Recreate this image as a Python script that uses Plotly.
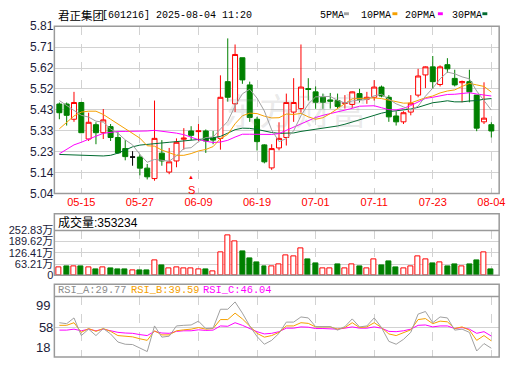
import plotly.graph_objects as go

W, H = 520, 365

# ---------------- data ----------------
dates = ["2025-05-12", "2025-05-13", "2025-05-14", "2025-05-15", "2025-05-16",
         "2025-05-19", "2025-05-20", "2025-05-21", "2025-05-22", "2025-05-23",
         "2025-05-26", "2025-05-27", "2025-05-28", "2025-05-29", "2025-05-30",
         "2025-06-03", "2025-06-04", "2025-06-05", "2025-06-06", "2025-06-09",
         "2025-06-10", "2025-06-11", "2025-06-12", "2025-06-13", "2025-06-16",
         "2025-06-17", "2025-06-18", "2025-06-19", "2025-06-20", "2025-06-23",
         "2025-06-24", "2025-06-25", "2025-06-26", "2025-06-27", "2025-06-30",
         "2025-07-01", "2025-07-02", "2025-07-03", "2025-07-04", "2025-07-07",
         "2025-07-08", "2025-07-09", "2025-07-10", "2025-07-11", "2025-07-14",
         "2025-07-15", "2025-07-16", "2025-07-17", "2025-07-18", "2025-07-21",
         "2025-07-22", "2025-07-23", "2025-07-24", "2025-07-25", "2025-07-28",
         "2025-07-29", "2025-07-30", "2025-07-31", "2025-08-01", "2025-08-04"]

opens = [5.452, 5.452, 5.382, 5.459, 5.291, 5.357, 5.320, 5.348, 5.298, 5.247,
         5.208, 5.208, 5.157, 5.109, 5.226, 5.139, 5.190, 5.290, 5.328, 5.325,
         5.328, 5.298, 5.294, 5.555, 5.453, 5.665, 5.540, 5.382, 5.264, 5.158,
         5.250, 5.298, 5.415, 5.431, 5.523, 5.508, 5.483, 5.471, 5.468, 5.455,
         5.450, 5.500, 5.474, 5.483, 5.530, 5.483, 5.397, 5.370, 5.415, 5.493,
         5.586, 5.623, 5.542, 5.633, 5.570, 5.550, 5.555, 5.493, 5.370, 5.357]
highs = [5.459, 5.459, 5.508, 5.462, 5.412, 5.368, 5.429, 5.360, 5.323, 5.286,
         5.235, 5.220, 5.176, 5.468, 5.286, 5.250, 5.294, 5.341, 5.350, 5.360,
         5.335, 5.328, 5.584, 5.754, 5.726, 5.665, 5.555, 5.393, 5.267, 5.267,
         5.368, 5.500, 5.571, 5.726, 5.571, 5.533, 5.500, 5.503, 5.500, 5.493,
         5.510, 5.522, 5.508, 5.562, 5.537, 5.493, 5.419, 5.419, 5.493, 5.614,
         5.625, 5.673, 5.630, 5.663, 5.610, 5.560, 5.610, 5.493, 5.552, 5.368]
lows = [5.382, 5.353, 5.370, 5.318, 5.282, 5.267, 5.291, 5.282, 5.223, 5.193,
        5.168, 5.124, 5.105, 5.099, 5.168, 5.129, 5.161, 5.242, 5.286, 5.282,
        5.227, 5.267, 5.242, 5.463, 5.415, 5.545, 5.370, 5.238, 5.179, 5.149,
        5.239, 5.261, 5.370, 5.412, 5.468, 5.430, 5.430, 5.431, 5.430, 5.431,
        5.434, 5.459, 5.453, 5.468, 5.483, 5.370, 5.353, 5.360, 5.400, 5.483,
        5.525, 5.522, 5.533, 5.596, 5.533, 5.460, 5.460, 5.327, 5.360, 5.298]
closes = [5.412, 5.400, 5.459, 5.320, 5.368, 5.320, 5.379, 5.298, 5.227, 5.210,
          5.208, 5.157, 5.117, 5.294, 5.190, 5.186, 5.276, 5.295, 5.308, 5.328,
          5.282, 5.286, 5.483, 5.483, 5.680, 5.563, 5.390, 5.279, 5.186, 5.247,
          5.294, 5.459, 5.459, 5.530, 5.519, 5.460, 5.460, 5.465, 5.441, 5.457,
          5.508, 5.474, 5.483, 5.530, 5.489, 5.393, 5.370, 5.412, 5.456, 5.581,
          5.623, 5.555, 5.623, 5.614, 5.540, 5.555, 5.508, 5.341, 5.387, 5.328]

ma5 = [5.468, 5.445, 5.425, 5.400, 5.392, 5.373, 5.369, 5.337, 5.318, 5.287,
       5.264, 5.220, 5.184, 5.197, 5.193, 5.189, 5.213, 5.248, 5.251, 5.279,
       5.298, 5.300, 5.337, 5.372, 5.443, 5.499, 5.520, 5.479, 5.420, 5.333,
       5.279, 5.293, 5.329, 5.398, 5.452, 5.485, 5.486, 5.487, 5.469, 5.457,
       5.466, 5.469, 5.473, 5.490, 5.497, 5.474, 5.453, 5.439, 5.424, 5.442,
       5.488, 5.525, 5.568, 5.599, 5.591, 5.577, 5.568, 5.512, 5.466, 5.424]
ma10 = [5.338, 5.367, 5.397, 5.415, 5.419, 5.419, 5.404, 5.382, 5.360, 5.339,
        5.319, 5.295, 5.260, 5.258, 5.240, 5.227, 5.216, 5.216, 5.224, 5.236,
        5.243, 5.256, 5.293, 5.312, 5.361, 5.398, 5.410, 5.408, 5.396, 5.388,
        5.389, 5.406, 5.404, 5.409, 5.393, 5.382, 5.389, 5.408, 5.433, 5.454,
        5.476, 5.477, 5.480, 5.480, 5.477, 5.470, 5.461, 5.456, 5.457, 5.470,
        5.481, 5.489, 5.503, 5.512, 5.517, 5.533, 5.547, 5.540, 5.533, 5.507]
ma20 = [5.223, 5.245, 5.264, 5.276, 5.291, 5.304, 5.317, 5.323, 5.326, 5.326,
        5.326, 5.326, 5.328, 5.331, 5.327, 5.323, 5.318, 5.311, 5.300, 5.288,
        5.281, 5.275, 5.277, 5.285, 5.300, 5.313, 5.313, 5.312, 5.310, 5.312,
        5.316, 5.331, 5.348, 5.360, 5.377, 5.390, 5.400, 5.408, 5.415, 5.421,
        5.432, 5.442, 5.442, 5.444, 5.435, 5.426, 5.425, 5.432, 5.445, 5.462,
        5.478, 5.483, 5.491, 5.496, 5.497, 5.501, 5.504, 5.498, 5.495, 5.489]
ma30 = [5.220, 5.219, 5.218, 5.218, 5.217, 5.214, 5.213, 5.216, 5.226, 5.240,
        5.255, 5.263, 5.267, 5.270, 5.273, 5.276, 5.279, 5.282, 5.285, 5.287,
        5.292, 5.297, 5.303, 5.318, 5.334, 5.341, 5.340, 5.335, 5.327, 5.321,
        5.317, 5.319, 5.319, 5.326, 5.331, 5.336, 5.338, 5.344, 5.351, 5.359,
        5.369, 5.380, 5.392, 5.400, 5.410, 5.417, 5.420, 5.424, 5.429, 5.437,
        5.449, 5.458, 5.462, 5.467, 5.462, 5.462, 5.466, 5.468, 5.474, 5.477]

# volume in 万 (10k shares); last bar = 353234
volumes = [43.3, 48.8, 52.4, 48.8, 43.3, 34.3, 47.0, 39.7, 34.3, 34.3,
           27.1, 28.9, 28.9, 86.7, 54.2, 37.9, 43.3, 39.7, 39.7, 34.3,
           34.3, 21.7, 130.0, 225.8, 189.6, 135.5, 93.9, 70.4, 48.8, 52.4,
           63.2, 112.0, 106.5, 149.9, 92.1, 65.0, 41.5, 37.9, 59.6, 37.9,
           63.2, 48.8, 41.5, 90.3, 54.2, 75.9, 43.3, 37.9, 52.4, 106.5,
           90.3, 65.0, 74.0, 48.8, 59.6, 52.4, 59.6, 86.7, 130.0, 35.3234]
vol_up = [1, 0, 1, 0, 1, 0, 1, 0, 0, 0, 1, 0, 0, 1, 0, 1, 1, 1, 1, 1,
          0, 1, 1, 1, 1, 0, 0, 0, 0, 1, 1, 1, 1, 1, 0, 0, 1, 1, 0, 1,
          1, 0, 1, 1, 0, 0, 0, 1, 1, 1, 1, 0, 1, 0, 0, 1, 0, 0, 1, 0]

rsi_a = [63.9, 62.6, 70.3, 46.7, 55.3, 46.7, 56.1, 48.9, 38.1, 35.1,
         34.7, 29.6, 25.3, 59.6, 44.6, 45.9, 59.6, 60.4, 60.9, 66.0,
         56.1, 56.6, 81.9, 81.9, 91.7, 76.7, 59.6, 45.4, 35.1, 40.3,
         49.7, 64.7, 64.7, 71.6, 70.3, 58.7, 58.7, 58.7, 54.0, 58.7,
         69.0, 58.3, 59.6, 70.3, 57.4, 39.0, 35.1, 41.6, 51.0, 75.4,
         78.9, 63.9, 71.6, 70.3, 54.0, 55.3, 51.0, 26.1, 36.0, 29.77]
rsi_b = [60.4, 60.4, 63.9, 51.0, 56.1, 52.3, 56.1, 52.3, 46.7, 45.4,
         45.0, 42.4, 40.3, 53.1, 47.6, 47.6, 53.1, 54.4, 55.3, 57.4,
         55.3, 56.1, 68.1, 68.1, 76.7, 69.0, 59.6, 49.7, 44.6, 46.7,
         51.0, 59.6, 59.6, 63.9, 63.0, 58.3, 58.3, 58.3, 55.3, 57.4,
         63.9, 57.4, 58.3, 63.9, 57.4, 48.9, 46.7, 50.1, 54.4, 68.1,
         69.4, 62.6, 66.0, 65.1, 56.1, 58.3, 54.0, 40.3, 46.7, 39.59]
rsi_c = [54.0, 54.0, 55.3, 53.1, 55.3, 53.1, 55.3, 53.1, 51.0, 50.1,
         49.7, 48.0, 46.7, 52.3, 50.1, 49.7, 52.3, 53.1, 53.1, 54.4,
         53.6, 54.0, 59.6, 59.1, 63.9, 60.4, 56.1, 51.9, 48.9, 49.7,
         51.9, 56.6, 56.6, 58.3, 57.9, 56.1, 56.1, 56.1, 55.3, 56.6,
         58.3, 56.6, 56.6, 58.3, 56.6, 52.3, 51.9, 53.1, 55.3, 60.4,
         60.9, 58.3, 59.6, 59.6, 56.1, 57.4, 55.3, 49.7, 51.9, 46.04]

price_ticks = [5.04, 5.13625, 5.2325, 5.32875, 5.425, 5.52125, 5.6175, 5.71375, 5.81]
price_labels = ["5.04", "5.14", "5.23", "5.33", "5.43", "5.52", "5.62", "5.71", "5.81"]
date_ticks = ["2025-05-15", "2025-05-27", "2025-06-09", "2025-06-19",
              "2025-07-01", "2025-07-11", "2025-07-23", "2025-08-04"]
date_labels = ["05-15", "05-27", "06-09", "06-19", "07-01", "07-11", "07-23", "08-04"]
vol_ticks = [0, 63.21, 126.41, 189.62, 252.83]
vol_labels = ["0", "63.21万", "126.41万", "189.62万", "252.83万"]
rsi_ticks = [99, 58, 18]
signal_date = "2025-06-06"
title_name = "君正集团"
title_info = "[601216] 2025-08-04 11:20"
vol_title = "成交量:353234"
ma_names = ["5PMA", "10PMA", "20PMA", "30PMA"]

# ---------------- styling ----------------
RED = "#ff0000"
GREEN = "#008000"
C_MA5 = "#a0a0a0"
C_MA10 = "#f5a000"
C_MA20 = "#ff00ff"
C_MA30 = "#006b30"
GRID = "#d2d2d2"
BORDER = "#9a9a9a"
TXT = "#1c1c3a"
SANS = "Liberation Sans, Arial, Noto Sans CJK SC"
MONO = "Liberation Mono, DejaVu Sans Mono, monospace"
CJK = "Noto Sans CJK SC"


def PX(x):
    return x / W


def PY(y):
    return 1 - y / H


X0, X1 = 55, 505
n = len(dates)

flat = [o == c for o, c in zip(opens, closes)]


def pick(arr, keep):
    return [v if k else None for v, k in zip(arr, keep)]


fig = go.Figure()

# normal candles
keep = [not f for f in flat]
fig.add_trace(go.Candlestick(
    x=dates, open=pick(opens, keep), high=pick(highs, keep),
    low=pick(lows, keep), close=pick(closes, keep),
    increasing=dict(line=dict(color=RED, width=1), fillcolor="#ffffff"),
    decreasing=dict(line=dict(color=GREEN, width=1), fillcolor=GREEN),
    whiskerwidth=0, showlegend=False, hoverinfo="skip", xaxis="x", yaxis="y"))
# flat (doji) candles drawn in black
fig.add_trace(go.Candlestick(
    x=dates, open=pick(opens, flat), high=pick(highs, flat),
    low=pick(lows, flat), close=pick(closes, flat),
    increasing=dict(line=dict(color="#000000", width=1), fillcolor="#000000"),
    decreasing=dict(line=dict(color="#000000", width=1), fillcolor="#000000"),
    whiskerwidth=0, showlegend=False, hoverinfo="skip", xaxis="x", yaxis="y"))

for ys, col in [(ma30, C_MA30), (ma20, C_MA20), (ma10, C_MA10), (ma5, C_MA5)]:
    fig.add_trace(go.Scatter(x=dates, y=ys, mode="lines",
                             line=dict(color=col, width=1),
                             showlegend=False, hoverinfo="skip",
                             xaxis="x", yaxis="y"))

# volume
fig.add_trace(go.Bar(
    x=dates, y=volumes, width=0.68,
    marker=dict(color=["#ffffff" if u else GREEN for u in vol_up],
                line=dict(color=[RED if u else GREEN for u in vol_up], width=1)),
    showlegend=False, hoverinfo="skip", xaxis="x2", yaxis="y2"))

# RSI
for ys, col in [(rsi_c, C_MA20), (rsi_b, C_MA10), (rsi_a, C_MA5)]:
    fig.add_trace(go.Scatter(x=dates, y=ys, mode="lines",
                             line=dict(color=col, width=1),
                             showlegend=False, hoverinfo="skip",
                             xaxis="x3", yaxis="y3"))

xr = [-0.68, 60.07]
common_x = dict(type="category", range=xr, showgrid=True, gridcolor=GRID,
                griddash="dash", gridwidth=1, zeroline=False, showline=False,
                ticks="", tickvals=date_ticks, domain=[PX(X0), PX(X1)],
                fixedrange=True)

fig.update_layout(
    width=W, height=H,
    margin=dict(l=0, r=0, t=0, b=0),
    paper_bgcolor="#ffffff", plot_bgcolor="#ffffff",
    boxgap=0.2, boxgroupgap=0.15, bargap=0,
    xaxis=dict(**common_x, anchor="y", ticktext=date_labels,
               tickfont=dict(family=SANS, size=11, color=RED),
               rangeslider=dict(visible=False)),
    yaxis=dict(domain=[PY(194), PY(20)], range=[5.04, 5.81],
               tickvals=price_ticks, ticktext=price_labels,
               tickfont=dict(family=SANS, size=12, color=TXT),
               showgrid=True, gridcolor=GRID, gridwidth=1, zeroline=False,
               ticks="", anchor="x", fixedrange=True),
    xaxis2=dict(**common_x, anchor="y2", showticklabels=False, matches="x"),
    yaxis2=dict(domain=[PY(279), PY(232.3)], range=[0, 252.83],
                tickvals=vol_ticks, ticktext=vol_labels,
                tickfont=dict(family=SANS, size=11, color=TXT),
                showgrid=True, gridcolor=GRID, gridwidth=1, zeroline=False,
                ticks="", anchor="x2", fixedrange=True),
    xaxis3=dict(**common_x, anchor="y3", showticklabels=False, matches="x"),
    yaxis3=dict(domain=[PY(364), PY(301)], range=[18, 99],
                tickvals=[rsi_ticks[1]], ticktext=[str(rsi_ticks[1])],
                tickfont=dict(family=SANS, size=13, color=TXT),
                showgrid=True, gridcolor=GRID, gridwidth=1, zeroline=False,
                ticks="", anchor="x3", fixedrange=True),
)

shapes = []
for (top, bot, hdr) in [(20, 194, None), (215, 279, 232.3), (288.3, 364, 301)]:
    shapes.append(dict(type="rect", xref="paper", yref="paper",
                       x0=PX(X0), x1=PX(X1), y0=PY(bot), y1=PY(top),
                       line=dict(color=BORDER, width=1.5), layer="above"))
    if hdr is not None:
        shapes.append(dict(type="line", xref="paper", yref="paper",
                           x0=PX(X0), x1=PX(X1), y0=PY(hdr), y1=PY(hdr),
                           line=dict(color=BORDER, width=1.5), layer="above"))

# legend swatches
legend_pos = [(321.5, 348, C_MA5), (363, 397, C_MA10), (408, 443, C_MA20), (455, 488, C_MA30)]
for (tx, sx, col) in legend_pos:
    shapes.append(dict(type="rect", xref="paper", yref="paper",
                       x0=PX(sx), x1=PX(sx + 5), y0=PY(8.5), y1=PY(5.5),
                       line=dict(width=0), fillcolor=col))
fig.update_layout(shapes=shapes)

ann = []
ann.append(dict(text=title_name, x=PX(56.5), y=PY(8), xref="paper", yref="paper",
                xanchor="left", yanchor="middle", showarrow=False,
                font=dict(family=CJK, size=11.5, color="#000000")))
ann.append(dict(text=title_info, x=PX(101.5), y=PY(8.5), xref="paper", yref="paper",
                xanchor="left", yanchor="middle", showarrow=False,
                font=dict(family=MONO, size=10, color="#000000")))
for (tx, sx, col), name in zip(legend_pos, ma_names):
    ann.append(dict(text=name, x=PX(tx), y=PY(8.5), xref="paper", yref="paper",
                    xanchor="left", yanchor="middle", showarrow=False,
                    font=dict(family=MONO, size=10, color="#000000")))
ann.append(dict(text=vol_title, x=PX(57), y=PY(224), xref="paper", yref="paper",
                xanchor="left", yanchor="middle", showarrow=False,
                font=dict(family=SANS, size=12, color="#000000")))
rsi_heads = [("RSI_A:%.2f" % rsi_a[-1], 57, "#8c8c8c"),
             ("RSI_B:%.2f" % rsi_b[-1], 130, C_MA10),
             ("RSI_C:%.2f" % rsi_c[-1], 203, C_MA20)]
for txt, x, col in rsi_heads:
    ann.append(dict(text=txt, x=PX(x), y=PY(294.5), xref="paper", yref="paper",
                    xanchor="left", yanchor="middle", showarrow=False,
                    font=dict(family=MONO, size=10.4, color=col)))
# RSI end labels
ann.append(dict(text=str(rsi_ticks[0]), x=PX(53), y=rsi_ticks[0], xref="paper", yref="y3",
                xanchor="right", yanchor="top", showarrow=False,
                font=dict(family=SANS, size=13, color=TXT)))
ann.append(dict(text=str(rsi_ticks[2]), x=PX(53), y=rsi_ticks[2], xref="paper", yref="y3",
                xanchor="right", yanchor="bottom", showarrow=False,
                font=dict(family=SANS, size=13, color=TXT)))
# signal marker
ann.append(dict(text="▲", x=signal_date, y=5.093, xref="x", yref="y",
                xanchor="center", yanchor="bottom", showarrow=False,
                font=dict(family=SANS, size=6, color=RED)))
ann.append(dict(text="S", x=signal_date, y=5.092, xref="x", yref="y",
                xanchor="center", yanchor="top", showarrow=False,
                font=dict(family=SANS, size=11, color=RED)))
# watermark
ann.append(dict(text="东方财富", x=PX(298), y=PY(106), xref="paper", yref="paper",
                xanchor="center", yanchor="middle", showarrow=False,
                font=dict(family=CJK, size=36, color="rgba(150,150,150,0.2)")))
fig.update_layout(annotations=ann)

fig.write_html("out.html", config={"displayModeBar": False})
